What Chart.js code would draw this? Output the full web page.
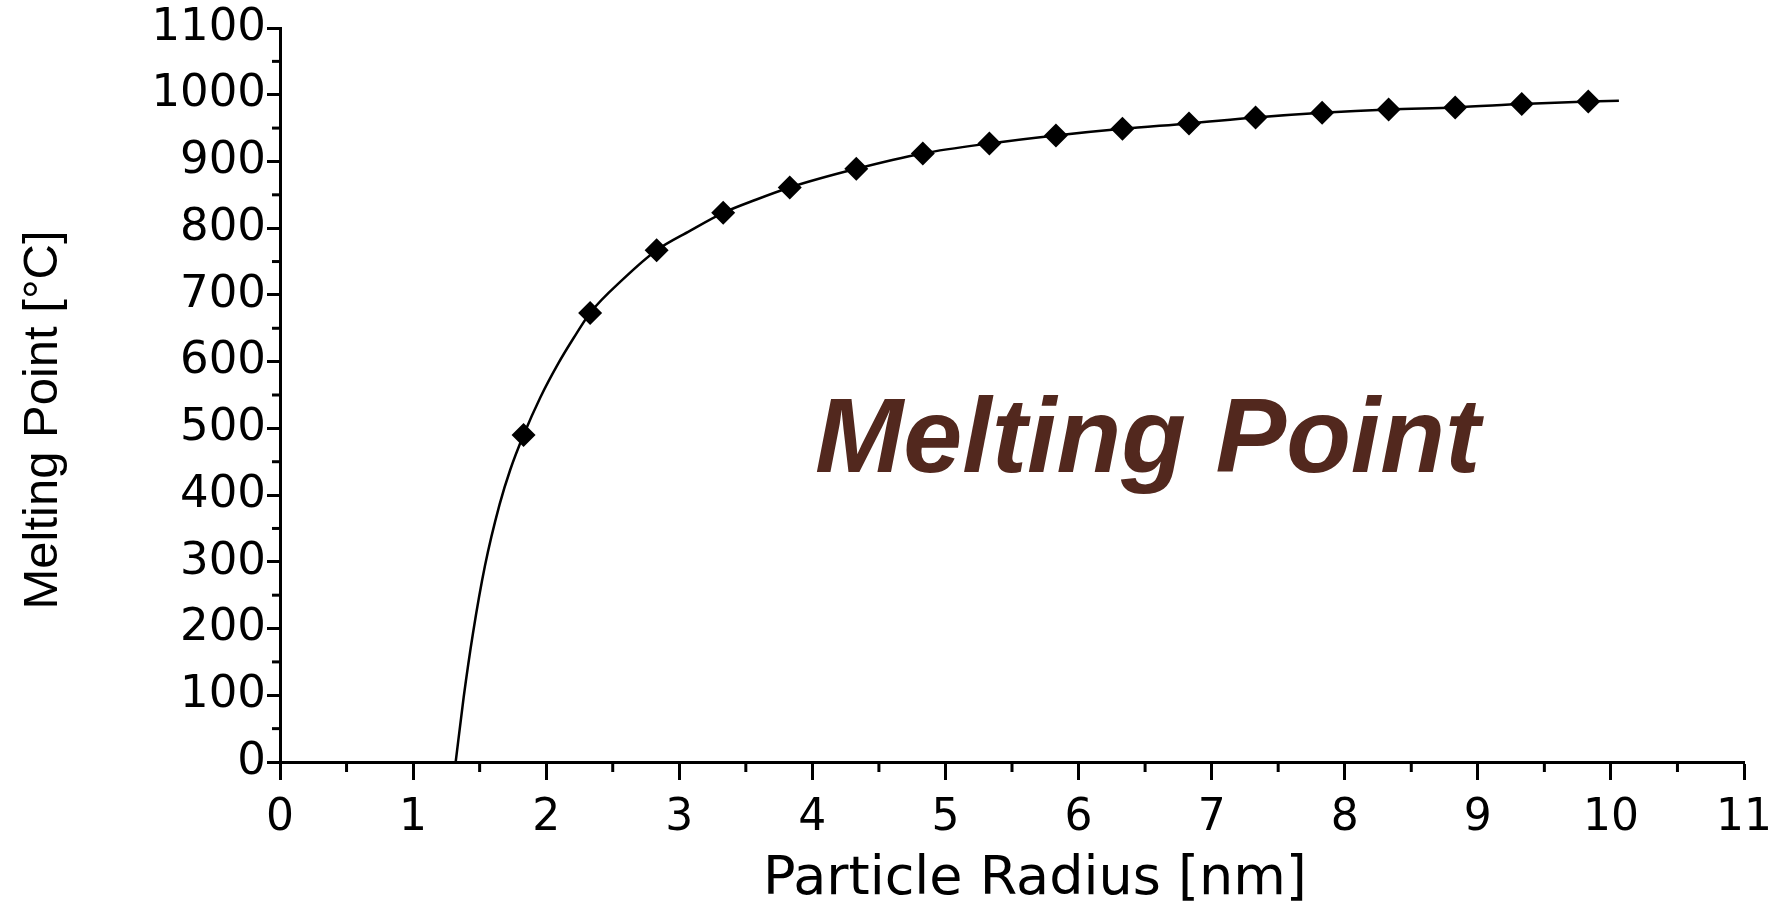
<!DOCTYPE html>
<html>
<head>
<meta charset="utf-8">
<script src="https://cdn.jsdelivr.net/npm/chart.js@4"></script>
<style>
  html, body { margin: 0; padding: 0; background: #fff; }
  #wrap { width: 1787px; height: 902px; position: relative; }
</style>
</head>
<body>
<div id="wrap"><canvas id="chart"></canvas></div>
<script>
// measured points (diamonds)
const radius = [1.83, 2.33, 2.83, 3.33, 3.83, 4.33, 4.83, 5.33, 5.83, 6.33, 6.83, 7.33, 7.83, 8.33, 8.83, 9.33, 9.83];
const meltingPoint = [490, 673, 767, 823, 861, 889, 912, 927, 939, 949, 957, 966, 973, 978, 981, 986, 990];

// fitted curve
const curveRadius = [1.32, 1.38, 1.45, 1.54, 1.65, 1.73, 1.83, 1.955, 2.09, 2.205, 2.33, 2.58, 2.83, 3.08, 3.33, 3.58, 3.83, 4.33, 4.83, 5.33, 5.83, 6.33, 6.83, 7.33, 7.83, 8.33, 8.83, 9.33, 9.83, 10.06];
const curveMelting = [0, 97, 193, 294, 386, 438, 490, 546, 597, 635, 673, 724, 767, 796, 823, 843, 861, 889, 912, 927, 939, 949, 957, 966, 973, 978, 981, 986, 990, 991];

const xMinorTicks = [0.5, 1.5, 2.5, 3.5, 4.5, 5.5, 6.5, 7.5, 8.5, 9.5, 10.5];
const yMinorTicks = [50, 150, 250, 350, 450, 550, 650, 750, 850, 950, 1050];

const xTitle = 'Particle Radius [nm]';
const yTitle = 'Melting Point [°C]';
const overlayText = 'Melting Point';
const overlayAt = { x: 4.02, y: 434 };

const toXY = (xs, ys) => xs.map((x, i) => ({ x: x, y: ys[i] }));

const decorations = {
    id: 'decorations',
    afterDraw(chart) {
        const ctx = chart.ctx;
        const xs = chart.scales.x;
        const ys = chart.scales.y;
        ctx.save();

        // minor ticks
        ctx.strokeStyle = '#000';
        ctx.lineWidth = 3;
        xMinorTicks.forEach(v => {
            const px = xs.getPixelForValue(v);
            ctx.beginPath();
            ctx.moveTo(px, ys.bottom);
            ctx.lineTo(px, ys.bottom + 10);
            ctx.stroke();
        });
        yMinorTicks.forEach(v => {
            const py = ys.getPixelForValue(v);
            ctx.beginPath();
            ctx.moveTo(xs.left, py);
            ctx.lineTo(xs.left - 8, py);
            ctx.stroke();
        });

        // axis titles (sit a bit off-centre in the original)
        ctx.fillStyle = '#000';
        ctx.textAlign = 'center';
        ctx.textBaseline = 'alphabetic';
        ctx.font = '54px "DejaVu Sans", sans-serif';
        ctx.fillText(xTitle, (xs.left + xs.right) / 2 + 23, chart.height - 8);

        ctx.save();
        ctx.translate(57, (ys.top + ys.bottom) / 2 + 25);
        ctx.rotate(-Math.PI / 2);
        ctx.font = '49px "Liberation Sans", Arial, sans-serif';
        ctx.fillText(yTitle, 0, 0);
        ctx.restore();

        // big brown label
        ctx.fillStyle = '#52281e';
        ctx.font = 'italic bold 106px "Liberation Sans", Arial, sans-serif';
        ctx.textAlign = 'left';
        ctx.fillText(overlayText, xs.getPixelForValue(overlayAt.x), ys.getPixelForValue(overlayAt.y));
        ctx.restore();
    }
};

new Chart(document.getElementById('chart'), {
    type: 'scatter',
    data: {
        datasets: [
            {
                label: 'fit',
                data: toXY(curveRadius, curveMelting),
                showLine: true,
                borderColor: '#000',
                borderWidth: 2.5,
                pointRadius: 0,
                cubicInterpolationMode: 'monotone',
                fill: false
            },
            {
                label: 'data',
                data: toXY(radius, meltingPoint),
                showLine: false,
                pointStyle: 'rectRot',
                pointRadius: 12,
                backgroundColor: '#000',
                borderColor: '#000',
                borderWidth: 0
            }
        ]
    },
    options: {
        responsive: true,
        maintainAspectRatio: false,
        animation: false,
        layout: { padding: { left: 0, right: 43, top: 25, bottom: 0 } },
        plugins: {
            legend: { display: false },
            tooltip: { enabled: false }
        },
        scales: {
            x: {
                type: 'linear',
                min: 0,
                max: 11,
                ticks: {
                    stepSize: 1,
                    color: '#000',
                    font: { family: '"DejaVu Sans", sans-serif', size: 44 },
                    padding: 12,
                    callback: v => String(v)
                },
                grid: { drawOnChartArea: false, drawTicks: true, tickLength: 18, tickWidth: 3, tickColor: '#000' },
                border: { color: '#000', width: 3 },
                afterFit(scale) { scale.height = 140; }
            },
            y: {
                type: 'linear',
                min: 0,
                max: 1100,
                ticks: {
                    stepSize: 100,
                    color: '#000',
                    font: { family: '"DejaVu Sans", sans-serif', size: 45 },
                    padding: 1,
                    callback: v => String(v)
                },
                grid: { drawOnChartArea: false, drawTicks: true, tickLength: 13, tickWidth: 3, tickColor: '#000' },
                border: { color: '#000', width: 3 },
                afterFit(scale) { scale.width = 280; }
            }
        }
    },
    plugins: [decorations]
});
</script>
</body>
</html>
